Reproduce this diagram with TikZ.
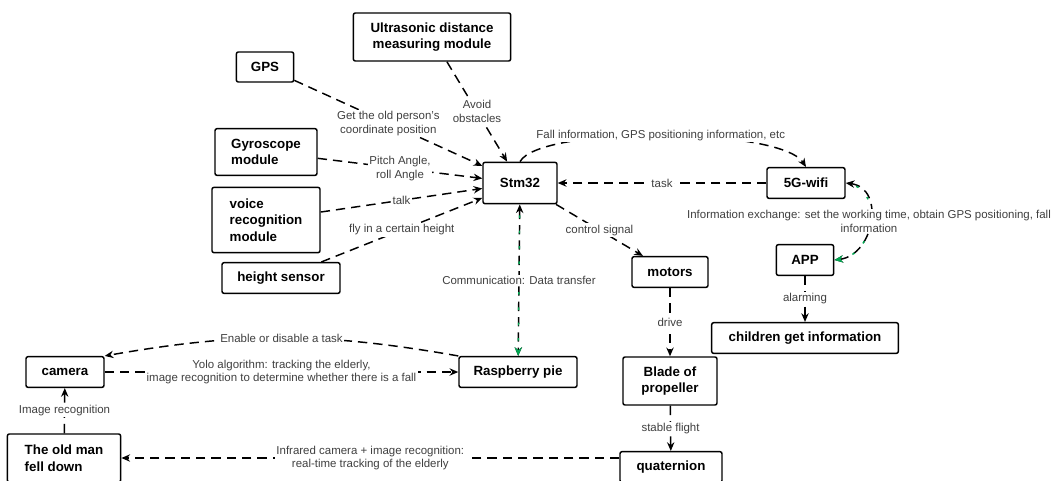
\documentclass[tikz,border=0pt]{standalone}
\usepackage{fontspec}
\setmainfont{Liberation Sans}
\usetikzlibrary{arrows.meta}
\definecolor{linkgreen}{RGB}{0,166,81}

\begin{document}
\begin{tikzpicture}[x=0.75pt, y=-0.75pt, >={Stealth[length=6.5pt,width=5.5pt]}]
        % Define node styles
        \tikzstyle{block}=[draw=black, line width=1.1pt, rounded corners=1.5pt, inner sep=2pt,
            font=\bfseries\fontsize{10}{12.5}\selectfont, align=center]
        \tikzstyle{flow}=[->, line width=1.1pt, dash pattern=on 7pt off 4.5pt]
        \tikzstyle{greenlink}=[draw=linkgreen, line width=1.1pt, dash pattern=on 2pt off 9.5pt, dash phase=3.25pt]
        \tikzstyle{lbl}=[fill=white, text=black!75, inner sep=1pt, align=center,
            font=\fontsize{8.6}{10.4}\selectfont]

        \useasboundingbox (0,0) rectangle (1056,480);

        % Sensor modules
        \node [block, minimum width=118pt, minimum height=36pt] (ultra) at (432,37) {Ultrasonic distance\\measuring module};
        \node [block, minimum width=43pt, minimum height=22.5pt] (gps) at (265,67) {GPS};
        \node [block, align=left, minimum width=76.5pt, minimum height=35pt] (gyro) at (266,152) {Gyroscope\\module};
        \node [block, align=left, minimum width=81pt, minimum height=49pt] (voice) at (266,220) {voice\\recognition\\module};
        \node [block, minimum width=88.5pt, minimum height=23pt] (height) at (281,278) {height sensor};

        % Controller and communication
        \node [block, minimum width=55.5pt, minimum height=31pt] (stm) at (520,183) {Stm32};
        \node [block, minimum width=58.5pt, minimum height=23pt] (wifi) at (806,183) {5G-wifi};
        \node [block, minimum width=43pt, minimum height=23pt] (app) at (805,260) {APP};
        \node [block, minimum width=140pt, minimum height=23pt] (kids) at (805,338) {children get information};
        \node [block, minimum width=88.5pt, minimum height=23pt] (rasp) at (518,372) {Raspberry pie};

        % Flight chain
        \node [block, minimum width=57pt, minimum height=23pt] (motors) at (670,272) {motors};
        \node [block, minimum width=70.5pt, minimum height=36pt] (blade) at (670,381) {Blade of\\propeller};
        \node [block, minimum width=76.5pt, minimum height=23pt] (quat) at (671,467) {quaternion};

        % Vision
        \node [block, minimum width=58.5pt, minimum height=23pt] (camera) at (65,372) {camera};
        \node [block, align=left, minimum width=85pt, minimum height=36pt] (old) at (64,458) {The old man\\fell down};

        % Sensors to Stm32
        \draw [flow] (gps) -- node[lbl] {Get the old person's\\coordinate position} (stm);
        \draw [flow] (ultra) -- node[lbl] {Avoid\\obstacles} (stm);
        \draw [flow] (gyro) -- node[lbl] {Pitch Angle,\\roll Angle} (stm);
        \draw [flow] (voice) -- node[lbl] {talk} (stm);
        \draw [flow] (height) -- node[lbl] {fly in a certain height} (stm);

        % Stm32 and 5G-wifi
        \draw [flow] (stm.north) .. controls +(20,-36) and +(-26,-40) .. node[lbl] {Fall information, GPS positioning information, etc} (wifi.north);
        \draw [flow] (wifi) -- node[lbl] {task} (stm);

        % 5G-wifi and APP
        \draw [flow, <->] (wifi.east) .. controls +(40,5) and +(40,-5) .. (app.east);
        \draw [greenlink, ->] (wifi.east) .. controls +(40,5) and +(40,-5) .. (app.east);
        \node [lbl] at (869,221) {Information exchange: set the working time, obtain GPS positioning, fall\\information};
        \draw [flow] (app) -- node[lbl] {alarming} (kids);

        % Stm32 and Raspberry pie
        \draw [flow, <->] (stm) -- (rasp);
        \draw [greenlink, ->] (stm) -- node[lbl, text=black!75] {Communication: Data transfer} (rasp);

        % Motor control
        \draw [flow] (stm) -- node[lbl] {control signal} (motors);
        \draw [flow] (motors) -- node[lbl] {drive} (blade);
        \draw [flow] (blade) -- node[lbl] {stable flight} (quat);

        % Raspberry pie and camera
        \draw [flow] (rasp.north west) to[bend right=10] node[lbl] {Enable or disable a task} (camera.north east);
        \draw [flow] (camera) -- node[lbl] {Yolo algorithm: tracking the elderly,\\image recognition to determine whether there is a fall} (rasp);
        \draw [flow] (old) -- node[lbl] {Image recognition} (camera);
        \draw [flow] (quat.west |- old.east) -- node[lbl] {Infrared camera + image recognition:\\real-time tracking of the elderly} (old.east);
    \end{tikzpicture}
\end{document}
